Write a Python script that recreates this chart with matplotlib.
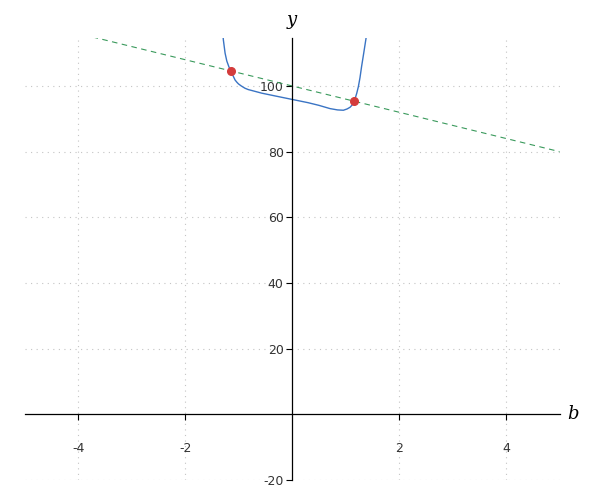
import numpy as np
import matplotlib.pyplot as plt

plt.rcParams['axes.unicode_minus'] = False

# %% Data
curve_b = [-1.30, -1.284, -1.252, -1.22, -1.18, -1.14, -1.10, -1.065, -1.03, -1.0,
           -0.95, -0.88, -0.82, -0.75, -0.566, -0.3, 0.0, 0.3, 0.5, 0.71, 0.85,
           0.96, 1.03, 1.084, 1.13, 1.165, 1.21, 1.24, 1.27, 1.30, 1.34, 1.383, 1.40]
curve_y = [117.0, 114.0, 110.0, 107.6, 105.8, 104.5, 103.0, 101.8, 101.1, 100.6,
           100.0, 99.3, 98.9, 98.6, 97.8, 96.9, 95.9, 94.9, 94.1, 93.1, 92.7,
           92.6, 93.0, 93.5, 94.3, 95.4, 97.8, 99.8, 102.5, 105.9, 110.0, 114.5, 117.0]

line_b = [-5, 5]
line_y = [120, 80]

pts_b = [-1.14, 1.16]
pts_y = [104.6, 95.4]

xticks = [-4, -2, 2, 4]
yticks = [-20, 20, 40, 60, 80, 100]

# %% Plot
fig = plt.figure(figsize=(6, 5), dpi=100)
ax = fig.add_axes([0.041, 0.04, 0.8915, 0.884])

ax.plot(line_b, line_y, color='#3a9a5c', lw=0.8, ls=(0, (5, 4)))
ax.plot(curve_b, curve_y, color='#3a74c4', lw=1.0)
ax.plot(pts_b, pts_y, 'o', color='#d43c3c', ms=5.5, zorder=5)

ax.set_xlim(-5, 5)
ax.set_ylim(-20, 114.6)

ax.spines['left'].set_position(('data', 0))
ax.spines['bottom'].set_position(('data', 0))
ax.spines['top'].set_visible(False)
ax.spines['right'].set_visible(False)
for s in ['left', 'bottom']:
    ax.spines[s].set_linewidth(0.9)

ax.set_xticks(xticks)
ax.set_yticks(yticks)
ax.tick_params(axis='x', direction='out', length=4, pad=16, labelsize=9,
               labelcolor='#333333')
ax.tick_params(axis='y', direction='out', length=4, pad=2, labelsize=9,
               labelcolor='#333333')

ax.grid(True, color='#c4c4c4', ls=(0, (1, 4)), lw=0.8)

ax.text(5.25, 0, 'b', fontsize=13, style='italic', family='serif',
        va='center', ha='center')
ax.text(0, 120.2, 'y', fontsize=13, style='italic', family='serif',
        va='center', ha='center', clip_on=False)

fig.savefig('out.png', dpi=100)
